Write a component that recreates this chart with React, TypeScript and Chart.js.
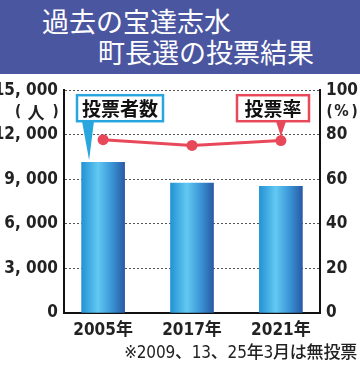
import React, { useEffect, useRef } from "react";
import { Chart, registerables } from "chart.js";

Chart.register(...registerables);

const titleLines = ["過去の宝達志水", "町長選の投票結果"];
const years = ["2005年", "2017年", "2021年"];
const yearPos = [0, 1, 2];
const voters = [10150, 8750, 8530];
const turnout = [77.8, 75.2, 77.4];
const votersLabel = "投票者数";
const turnoutLabel = "投票率";
const leftUnit = ["(", "人", ")"];
const rightUnit = ["(", "%", ")"];
const footnote = "※2009、13、25年3月は無投票";

const NUM_FONT = "'DejaVu Sans Condensed', 'Noto Sans CJK JP', sans-serif";
const JP_FONT = "'Noto Sans CJK JP', sans-serif";
const CYAN = "#2aa6df";
const RED = "#e8495a";
const BAR_W = 43;

export default function App() {
  const ref = useRef<HTMLCanvasElement>(null);

  useEffect(() => {
    document.body.style.margin = "0";
    const canvas = ref.current;
    if (!canvas) return;

    const overlay = {
      id: "overlay",
      afterDraw(chart: any) {
        const ctx = chart.ctx as CanvasRenderingContext2D;
        const xs = chart.scales.x;
        const y = chart.scales.y;
        const y1 = chart.scales.y1;
        const ca = chart.chartArea;
        ctx.save();
        // unit labels
        ctx.fillStyle = "#222";
        ctx.textBaseline = "middle";
        ctx.textAlign = "center";
        const uy = ca.top + 22;
        ctx.font = `bold 15px ${NUM_FONT}`;
        ctx.fillText(leftUnit[0], ca.left - 46, uy);
        ctx.fillText(leftUnit[2], ca.left - 8.5, uy);
        ctx.font = `bold 17px ${JP_FONT}`;
        ctx.fillText(leftUnit[1], ca.left - 28, uy);
        ctx.font = `bold 15px ${NUM_FONT}`;
        ctx.fillText(rightUnit[0], ca.right + 9.5, uy);
        ctx.fillText(rightUnit[2], ca.right + 34.5, uy);
        ctx.font = `bold 16px ${NUM_FONT}`;
        ctx.fillText(rightUnit[1], ca.right + 21.5, uy);

        // callout 1 (voters)
        const bx1 = ca.left + 13, by = ca.top + 5, bh = 26;
        const ax1 = xs.getPixelForValue(yearPos[0]) - 14;
        const ay1 = y.getPixelForValue(voters[0]) - 2;
        ctx.fillStyle = CYAN;
        ctx.beginPath();
        ctx.moveTo(bx1 + 5, by + bh);
        ctx.lineTo(bx1 + 17, by + bh);
        ctx.lineTo(ax1, ay1);
        ctx.closePath();
        ctx.fill();
        ctx.fillStyle = "#fff";
        ctx.fillRect(bx1, by, 86, bh);
        ctx.strokeStyle = CYAN;
        ctx.lineWidth = 2.5;
        ctx.strokeRect(bx1, by, 86, bh);
        ctx.fillStyle = "#111";
        ctx.font = `bold 19px ${JP_FONT}`;
        ctx.fillText(votersLabel, bx1 + 43, by + bh / 2 + 1);

        // callout 2 (turnout)
        const bx2 = ca.right - 83;
        const ax2 = xs.getPixelForValue(yearPos[2]);
        const ay2 = y1.getPixelForValue(turnout[2]) - 4;
        ctx.fillStyle = RED;
        ctx.beginPath();
        ctx.moveTo(bx2 + 39, by + bh);
        ctx.lineTo(bx2 + 49, by + bh);
        ctx.lineTo(ax2, ay2);
        ctx.closePath();
        ctx.fill();
        ctx.fillStyle = "#fff";
        ctx.fillRect(bx2, by, 72, bh);
        ctx.strokeStyle = RED;
        ctx.lineWidth = 2.5;
        ctx.strokeRect(bx2, by, 72, bh);
        ctx.fillStyle = "#111";
        ctx.font = `bold 19px ${JP_FONT}`;
        ctx.fillText(turnoutLabel, bx2 + 36, by + bh / 2 + 1);
        ctx.restore();
      },
    };

    const barColor = (c: any) => {
      const chart = c.chart;
      const xs = chart.scales?.x;
      if (!chart.chartArea || !xs) return "#3aa8e2";
      const cx = xs.getPixelForValue(yearPos[c.dataIndex]);
      const g = chart.ctx.createLinearGradient(cx - BAR_W / 2, 0, cx + BAR_W / 2, 0);
      g.addColorStop(0, "#2492d4");
      g.addColorStop(0.38, "#62c9f2");
      g.addColorStop(0.7, "#3a95d6");
      g.addColorStop(1, "#2a5aa6");
      return g;
    };

    const chart = new Chart(canvas, {
      type: "bar",
      data: {
        datasets: [
          {
            type: "line",
            data: yearPos.map((x, i) => ({ x, y: turnout[i] })),
            yAxisID: "y1",
            borderColor: RED,
            backgroundColor: RED,
            borderWidth: 3,
            pointRadius: 5.5,
            pointBackgroundColor: RED,
            pointBorderWidth: 0,
            order: 0,
          } as any,
          {
            type: "bar",
            data: yearPos.map((x, i) => ({ x, y: voters[i] })),
            yAxisID: "y",
            backgroundColor: barColor,
            barThickness: BAR_W,
            order: 1,
          },
        ],
      },
      options: {
        animation: false,
        responsive: false,
        events: [],
        layout: { padding: { top: 14, left: 0, right: 0, bottom: 0 } },
        plugins: { legend: { display: false }, tooltip: { enabled: false } },
        scales: {
          x: {
            type: "linear",
            min: -0.44,
            max: 2.44,
            offset: false,
            grid: { display: false, drawTicks: false },
            border: { display: true, color: "#111", width: 2 },
            afterBuildTicks: (s: any) => {
              s.ticks = yearPos.map((v) => ({ value: v }));
            },
            afterFit: (s: any) => {
              s.height = 53;
            },
            ticks: {
              padding: 7,
              color: "#222",
              font: { family: NUM_FONT, size: 17, weight: "bold" },
              callback: (v: any) => years[yearPos.indexOf(Number(v))] ?? "",
              autoSkip: false,
              maxRotation: 0,
            },
          },
          y: {
            position: "left",
            min: 0,
            max: 15000,
            grid: {
              drawTicks: false,
              color: (c: any) => (c.tick && c.tick.value === 0 ? "rgba(0,0,0,0)" : "#555"),
              lineWidth: 1,
            },
            border: { display: true, color: "#111", width: 2, dash: [2, 2] },
            afterFit: (s: any) => {
              s.width = 64;
            },
            ticks: {
              stepSize: 3000,
              padding: 6,
              color: "#222",
              font: { family: NUM_FONT, size: 17, weight: "bold" },
              callback: (v: any) => Number(v).toLocaleString("en-US").replace(",", ", "),
            },
          },
          y1: {
            position: "right",
            min: 0,
            max: 100,
            grid: { display: false, drawTicks: false },
            border: { display: true, color: "#111", width: 2 },
            afterFit: (s: any) => {
              s.width = 40;
            },
            ticks: {
              stepSize: 20,
              padding: 6,
              color: "#222",
              font: { family: NUM_FONT, size: 17, weight: "bold" },
            },
          },
        },
      },
      plugins: [overlay],
    } as any);

    return () => chart.destroy();
  }, []);

  return (
    <div style={{ position: "relative", width: 360, height: 366, background: "#fff", overflow: "hidden" }}>
      <div
        style={{
          position: "absolute",
          left: 0,
          top: 0,
          width: 360,
          height: 74,
          background: "#4b56a1",
          color: "#fff",
          fontFamily: JP_FONT,
          fontSize: 27,
          lineHeight: "30px",
          whiteSpace: "nowrap",
        }}
      >
        <div style={{ position: "absolute", left: 42, top: 6 }}>{titleLines[0]}</div>
        <div style={{ position: "absolute", left: 98, top: 37 }}>{titleLines[1]}</div>
      </div>
      <canvas ref={ref} width={360} height={292} style={{ position: "absolute", left: 0, top: 74 }} />
      <div
        style={{
          position: "absolute",
          right: 3,
          top: 342,
          fontFamily: NUM_FONT,
          fontSize: 17,
          fontWeight: 500,
          lineHeight: "20px",
          letterSpacing: "-0.2px",
          color: "#222",
          whiteSpace: "nowrap",
        }}
      >
        {footnote}
      </div>
    </div>
  );
}
